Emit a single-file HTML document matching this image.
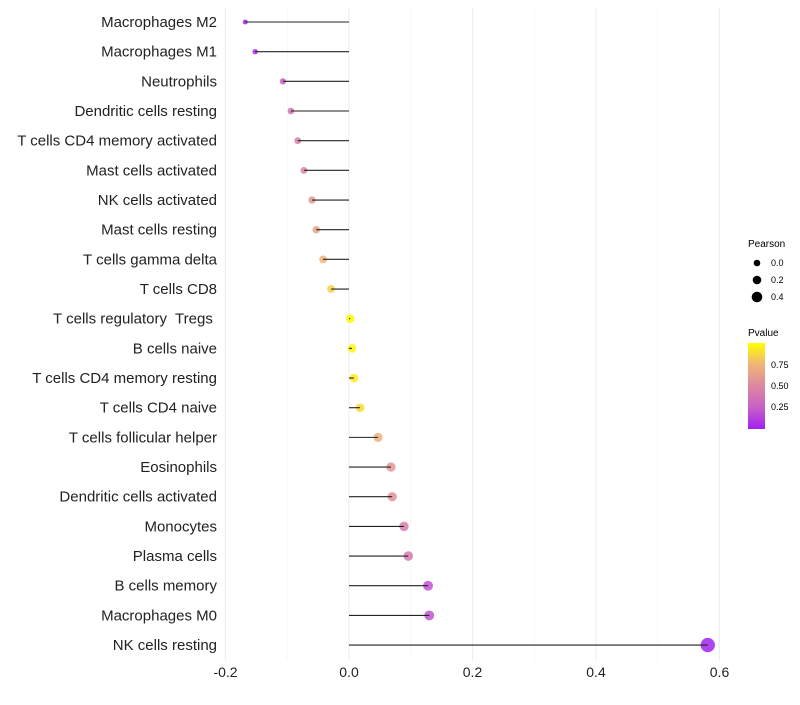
<!DOCTYPE html>
<html><head><meta charset="utf-8"><style>
body{margin:0;background:#fff;font-family:"Liberation Sans",sans-serif;}
text{white-space:pre;}
</style></head><body>
<svg id="chart" width="800" height="700" xmlns="http://www.w3.org/2000/svg">
<defs><linearGradient id="pg" x1="0" y1="1" x2="0" y2="0">
<stop offset="0" stop-color="#a020f0"/><stop offset="0.25" stop-color="#c860c8"/><stop offset="0.5" stop-color="#dc88a0"/><stop offset="0.75" stop-color="#f0b478"/><stop offset="1" stop-color="#ffff00"/>
</linearGradient></defs>
<g id="grid"></g><g id="marks"></g><g id="labels"></g>
<g font-size="9">
<text x="748" y="247" font-size="10">Pearson</text>
<circle cx="757" cy="263" r="3.3"/><text x="771" y="266">0.0</text>
<circle cx="757" cy="280" r="4.3"/><text x="771" y="283">0.2</text>
<circle cx="757" cy="297" r="5.3"/><text x="771" y="300">0.4</text>
<text x="748" y="336" font-size="10">Pvalue</text>
<rect x="748" y="343" width="17" height="86" fill="url(#pg)"/>
<text x="771" y="368">0.75</text><text x="771" y="389">0.50</text><text x="771" y="410">0.25</text>
</g>
</svg>
<script>
const categories=["Macrophages M2","Macrophages M1","Neutrophils","Dendritic cells resting","T cells CD4 memory activated","Mast cells activated","NK cells activated","Mast cells resting","T cells gamma delta","T cells CD8","T cells regulatory  Tregs ","B cells naive","T cells CD4 memory resting","T cells CD4 naive","T cells follicular helper","Eosinophils","Dendritic cells activated","Monocytes","Plasma cells","B cells memory","Macrophages M0","NK cells resting"];
const pearson=[-0.168,-0.152,-0.107,-0.094,-0.083,-0.073,-0.060,-0.053,-0.042,-0.029,0.002,0.005,0.008,0.018,0.047,0.068,0.070,0.089,0.096,0.128,0.130,0.581];
const pvalue=[0.02,0.05,0.27,0.37,0.45,0.5,0.6,0.65,0.75,0.85,0.99,0.97,0.93,0.88,0.72,0.58,0.56,0.44,0.4,0.2,0.2,0.01];
const xticks=[-0.2,0.0,0.2,0.4,0.6];
const xminor=[-0.1,0.1,0.3,0.5];
const NS="http://www.w3.org/2000/svg";
const xs=v=>349+v*617.5;
const ys=i=>22+i*29.67;
const rs=v=>v>=0?4.3+4.9*v:Math.max(1.6,4.3+10.5*v);
const stops=[[0,[160,32,240]],[0.25,[200,96,200]],[0.5,[220,136,160]],[0.75,[240,180,120]],[1,[255,255,0]]];
function col(p){for(let k=1;k<stops.length;k++){if(p<=stops[k][0]){const a=stops[k-1],b=stops[k];const t=(p-a[0])/(b[0]-a[0]);const c=a[1].map((v,j)=>Math.round(v+(b[1][j]-v)*t));return `rgb(${c})`;}}return "rgb(255,255,0)";}
function mk(tag,attrs,parent){const e=document.createElementNS(NS,tag);for(const k in attrs)e.setAttribute(k,attrs[k]);document.getElementById(parent).appendChild(e);return e;}
xminor.forEach(v=>{const l=mk("line",{x1:xs(v),x2:xs(v),y1:8,y2:660,stroke:"#f4f4f4","stroke-width":0.6},"grid");

});
xticks.forEach(v=>{const l=mk("line",{x1:xs(v),x2:xs(v),y1:8,y2:660,stroke:"#ededed","stroke-width":1.1},"grid");


const t=mk("text",{x:xs(v),y:677,"text-anchor":"middle","font-size":14,fill:"#222"},"labels");t.textContent=v.toFixed(1);

});
categories.forEach((c,i)=>{const y=ys(i),v=pearson[i];
const d=mk("circle",{cx:xs(v),cy:y,r:rs(v),fill:col(pvalue[i]),"fill-opacity":0.85},"marks");


const s=mk("line",{x1:xs(0),x2:xs(v),y1:y,y2:y,stroke:"#222","stroke-width":1.1},"marks");


const t=mk("text",{x:217,y:y+5,"text-anchor":"end","font-size":15,fill:"#222"},"labels");t.textContent=c;

});
</script>
</body></html>
